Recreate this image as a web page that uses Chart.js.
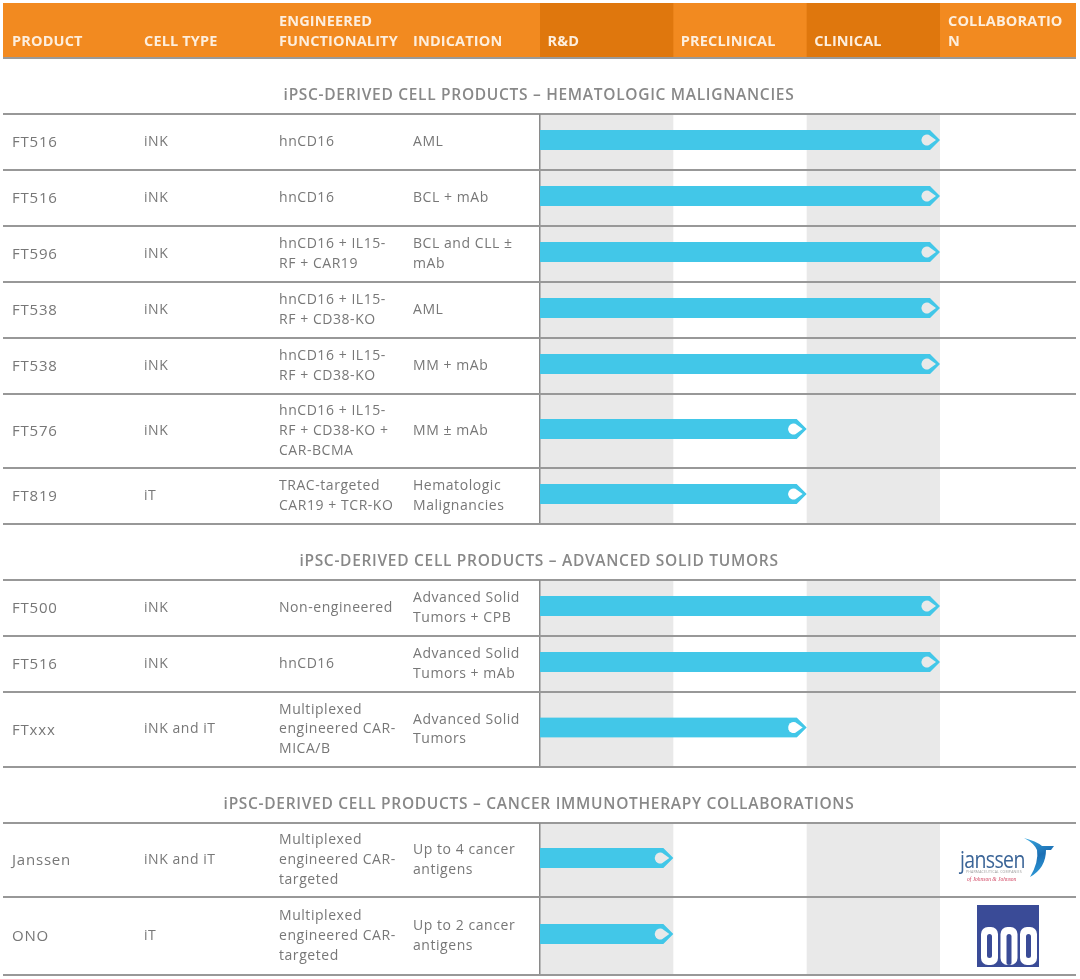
<!DOCTYPE html>
<html>
<head>
<meta charset="utf-8">
<title>Pipeline</title>
<script src="https://cdn.jsdelivr.net/npm/chart.js@4"></script>
<style>
  html, body { margin: 0; background: #fff; }
  canvas { display: block; filter: blur(0.7px); }
</style>
</head>
<body>
<canvas id="pipeline" width="1080" height="979"></canvas>
<script>
// table content
const headers = ['PRODUCT', 'CELL TYPE', 'ENGINEERED\nFUNCTIONALITY', 'INDICATION'];
const stages = ['R&D', 'PRECLINICAL', 'CLINICAL', 'COLLABORATIO\nN'];
const sectionTitles = [
    'iPSC-DERIVED CELL PRODUCTS – HEMATOLOGIC MALIGNANCIES',
    'iPSC-DERIVED CELL PRODUCTS – ADVANCED SOLID TUMORS',
    'iPSC-DERIVED CELL PRODUCTS – CANCER IMMUNOTHERAPY COLLABORATIONS'
];
const sectionSizes = [7, 3, 2];
const products = ['FT516', 'FT516', 'FT596', 'FT538', 'FT538', 'FT576', 'FT819', 'FT500', 'FT516', 'FTxxx', 'Janssen', 'ONO'];
const cellTypes = ['iNK', 'iNK', 'iNK', 'iNK', 'iNK', 'iNK', 'iT', 'iNK', 'iNK', 'iNK and iT', 'iNK and iT', 'iT'];
const functionality = [
    'hnCD16', 'hnCD16', 'hnCD16 + IL15-\nRF + CAR19', 'hnCD16 + IL15-\nRF + CD38-KO', 'hnCD16 + IL15-\nRF + CD38-KO',
    'hnCD16 + IL15-\nRF + CD38-KO +\nCAR-BCMA', 'TRAC-targeted\nCAR19 + TCR-KO', 'Non-engineered', 'hnCD16',
    'Multiplexed\nengineered CAR-\nMICA/B', 'Multiplexed\nengineered CAR-\ntargeted', 'Multiplexed\nengineered CAR-\ntargeted'
];
const indications = [
    'AML', 'BCL + mAb', 'BCL and CLL ±\nmAb', 'AML', 'MM + mAb', 'MM ± mAb', 'Hematologic\nMalignancies',
    'Advanced Solid\nTumors + CPB', 'Advanced Solid\nTumors + mAb', 'Advanced Solid\nTumors',
    'Up to 4 cancer\nantigens', 'Up to 2 cancer\nantigens'
];
// stages reached by each program (1 = R&D, 2 = preclinical, 3 = clinical)
const stagesReached = [3, 3, 3, 3, 3, 2, 2, 3, 3, 2, 1, 1];

// layout, in page pixels
const rowBottoms = [170, 226, 282, 338, 394, 468, 524, 636, 692, 767, 897, 975];
const sectionTops = [114, 580, 823];
const titleY = [96, 562, 805];
const columnX = [12, 144, 279, 413];
const collabX = 948;
const pageLeft = 3, pageRight = 1076;
const lineGap = 19.6;

const GREY_BAND = '#e9e9e9';
const ORANGE = '#f28a20';
const ORANGE_DARK = '#df770d';
const TEXT = '#777777';
const RULE = '#989898';
const BAR = '#42c7e8';

// row tops follow from the sections and the row bottoms
const rowTops = [];
{
    let r = 0;
    sectionSizes.forEach((n, s) => {
        for (let i = 0; i < n; i++, r++) rowTops.push(i === 0 ? sectionTops[s] : rowBottoms[r - 1]);
    });
}
const rowCenters = rowTops.map((t, i) => (t + rowBottoms[i]) / 2);

function setFont(ctx, font, color, spacing) {
    ctx.font = font;
    ctx.fillStyle = color;
    ctx.letterSpacing = spacing || '0px';
}

function multiline(ctx, text, x, cy) {
    const lines = text.split('\n');
    lines.forEach((l, i) => ctx.fillText(l, x, cy + (i - (lines.length - 1) / 2) * lineGap));
}

function drawHeader(ctx, xs) {
    ctx.fillStyle = ORANGE;
    ctx.fillRect(pageLeft, 3, pageRight - pageLeft, 54);
    ctx.fillStyle = ORANGE_DARK;
    ctx.fillRect(xs(0), 3, xs(1) - xs(0), 54);
    ctx.fillRect(xs(2), 3, xs(3) - xs(2), 54);
    ctx.fillStyle = '#9a9a9a';
    ctx.fillRect(pageLeft, 57, pageRight - pageLeft, 2);

    setFont(ctx, 'bold 14.5px "Open Sans"', '#fdeedd', '0.15px');
    ctx.textBaseline = 'middle';
    const put = (text, x) => {
        const lines = text.split('\n');
        lines.forEach((l, i) => ctx.fillText(l, x, 41.5 - (lines.length - 1 - i) * 20));
    };
    headers.forEach((h, i) => put(h, columnX[i]));
    stages.forEach((s, i) => put(s, i < 3 ? xs(i) + 7.5 : collabX));
}

function drawBands(ctx, xs) {
    let r = 0;
    sectionSizes.forEach((n, s) => {
        const top = sectionTops[s];
        const bottom = rowBottoms[r + n - 1];
        r += n;
        ctx.fillStyle = GREY_BAND;
        ctx.fillRect(xs(0), top, xs(1) - xs(0), bottom - top);
        ctx.fillRect(xs(2), top, xs(3) - xs(2), bottom - top);
        ctx.fillStyle = RULE;
        ctx.fillRect(pageLeft, top - 1, pageRight - pageLeft, 2);
        ctx.fillStyle = '#8a8a8a';
        ctx.fillRect(xs(0) - 1, top, 1.5, bottom - top);
    });
    ctx.fillStyle = RULE;
    rowBottoms.forEach(b => ctx.fillRect(pageLeft, b - 1, pageRight - pageLeft, 2));
}

function drawTexts(ctx) {
    ctx.textBaseline = 'middle';
    ctx.textAlign = 'center';
    setFont(ctx, '600 15.5px "Open Sans"', '#888888', '0.7px');
    sectionTitles.forEach((t, i) => ctx.fillText(t, 539, titleY[i]));
    ctx.textAlign = 'left';

    products.forEach((p, i) => {
        setFont(ctx, '15px "Open Sans"', TEXT, '0.8px');
        ctx.fillText(p, columnX[0], rowCenters[i] + 1);
        setFont(ctx, '14px "Open Sans"', TEXT, '0.55px');
        ctx.fillText(cellTypes[i], columnX[1], rowCenters[i]);
        multiline(ctx, functionality[i], columnX[2], rowCenters[i]);
        multiline(ctx, indications[i], columnX[3], rowCenters[i]);
    });
}

function arrowPath(ctx, el) {
    const top = el.y - el.height / 2, bottom = el.y + el.height / 2;
    ctx.moveTo(0, top);
    ctx.lineTo(el.x - 10, top);
    ctx.lineTo(el.x, el.y);
    ctx.lineTo(el.x - 10, bottom);
    ctx.lineTo(0, bottom);
    ctx.closePath();
}

function drawDots(ctx, bars) {
    bars.forEach((el, i) => {
        // the hole shows whatever band the bar ends in
        ctx.fillStyle = stagesReached[i] === 2 ? '#ffffff' : GREY_BAND;
        ctx.beginPath();
        ctx.arc(el.x - 13, el.y, 5.5, Math.PI * 0.4, Math.PI * 1.6);
        ctx.lineTo(el.x - 4, el.y);
        ctx.closePath();
        ctx.fill();
    });
}

function drawJanssen(ctx) {
    ctx.textBaseline = 'alphabetic';
    setFont(ctx, '400 21px "Open Sans"', '#3a6497', '-0.7px');
    ctx.save();
    ctx.translate(960, 868);
    ctx.scale(0.93, 1.1);
    ctx.fillText('janssen', 0, 0);
    ctx.restore();
    // swoosh
    const g = ctx.createLinearGradient(1024, 838, 1040, 878);
    g.addColorStop(0, '#39a9e0');
    g.addColorStop(0.5, '#1c6fb4');
    g.addColorStop(1, '#2f9fdc');
    ctx.fillStyle = g;
    ctx.beginPath();
    ctx.moveTo(1024, 838);
    ctx.quadraticCurveTo(1036, 841, 1042, 846);
    ctx.lineTo(1054, 846);
    ctx.lineTo(1051, 850);
    ctx.lineTo(1046, 850);
    ctx.quadraticCurveTo(1046, 868, 1030, 877);
    ctx.quadraticCurveTo(1039, 862, 1037, 850);
    ctx.quadraticCurveTo(1034, 843, 1024, 838);
    ctx.fill();
    setFont(ctx, '3.5px "Open Sans"', '#9a9a9a', '0.2px');
    ctx.fillText('PHARMACEUTICAL COMPANIES', 966, 873);
    setFont(ctx, 'italic 5.5px "Liberation Serif"', '#d0405e', '0px');
    ctx.fillText('of Johnson & Johnson', 967, 881);
}

function drawOno(ctx) {
    ctx.fillStyle = '#3a4b97';
    ctx.fillRect(977, 905, 62, 62);
    const letter = (x, open) => {
        ctx.fillStyle = '#ffffff';
        ctx.beginPath();
        ctx.roundRect(x, 927, 17, 38, 7);
        ctx.fill();
        ctx.fillStyle = '#3a4b97';
        ctx.beginPath();
        ctx.roundRect(x + 6, 934, 5, open ? 31 : 24, 2.5);
        ctx.fill();
    };
    letter(981, false);
    letter(1000.5, true);
    letter(1020, false);
}

const pipelinePlugin = {
    id: 'pipelineTable',
    beforeDatasetsDraw(chart) {
        const ctx = chart.ctx;
        const xs = v => chart.scales.x.getPixelForValue(v);
        ctx.save();
        drawHeader(ctx, xs);
        drawBands(ctx, xs);
        drawTexts(ctx);
        drawJanssen(ctx);
        drawOno(ctx);
        ctx.restore();
        // bars are drawn by the library, clipped here to the arrow outline
        ctx.save();
        ctx.beginPath();
        chart.getDatasetMeta(0).data.forEach(el => arrowPath(ctx, el));
        ctx.clip();
    },
    afterDatasetsDraw(chart) {
        const ctx = chart.ctx;
        ctx.restore();
        ctx.save();
        drawDots(ctx, chart.getDatasetMeta(0).data);
        ctx.restore();
    }
};

// bars sit a little above the middle of their row
const barY = rowCenters.map(c => c - 2);

new Chart(document.getElementById('pipeline'), {
    type: 'bar',
    plugins: [pipelinePlugin],
    data: {
        datasets: [{
            data: stagesReached.map((v, i) => ({ x: v, y: barY[i] })),
            backgroundColor: BAR,
            borderWidth: 0,
            barThickness: 20
        }]
    },
    options: {
        indexAxis: 'y',
        responsive: false,
        animation: false,
        layout: { padding: { left: 540, right: 140, top: 0, bottom: 0 } },
        plugins: { legend: { display: false }, tooltip: { enabled: false } },
        scales: {
            x: { type: 'linear', min: 0, max: 3, display: false },
            y: { type: 'linear', min: 0, max: 979, reverse: true, offset: false, display: false }
        }
    }
});
</script>
</body>
</html>
